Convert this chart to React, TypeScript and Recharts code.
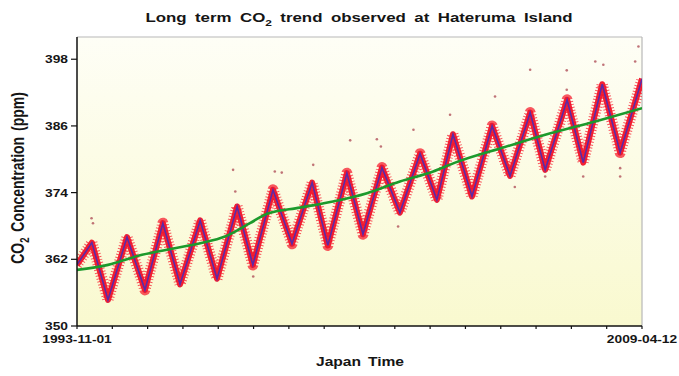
import React from 'react';
import { ComposedChart, Line, Scatter, XAxis, YAxis, CartesianGrid, ReferenceLine } from 'recharts';

// Seasonal (smoothed) curve: peaks and troughs
const seasonTime = [1993.83, 1994.24, 1994.68, 1995.20, 1995.69, 1996.18, 1996.65, 1997.20, 1997.66, 1998.21, 1998.64, 1999.19, 1999.71, 2000.26, 2000.69, 2001.21, 2001.65, 2002.17, 2002.66, 2003.21, 2003.67, 2004.11, 2004.63, 2005.18, 2005.67, 2006.22, 2006.63, 2007.23, 2007.67, 2008.19, 2008.68, 2009.28];
const seasonPpm = [361.0, 365.0, 354.7, 366.0, 356.5, 368.5, 357.5, 369.0, 358.5, 371.5, 361.0, 374.5, 364.8, 375.8, 364.5, 377.5, 366.5, 378.5, 370.4, 381.0, 372.7, 384.5, 373.3, 386.0, 377.0, 388.4, 378.1, 390.7, 379.4, 393.5, 381.2, 394.5];

// Long-term trend (green)
const trendTime = [1993.83, 1994.68, 1995.61, 1996.51, 1997.20, 1997.88, 1998.56, 1999.03, 1999.93, 2000.83, 2001.76, 2002.66, 2003.57, 2004.17, 2005.53, 2006.63, 2008.00, 2009.28];
const trendPpm = [360.1, 361.0, 362.8, 364.0, 364.9, 366.1, 368.5, 370.2, 371.3, 372.4, 373.9, 376.0, 377.8, 379.4, 382.2, 384.4, 386.8, 389.2];

// Scattered outlying observations
const outlierTime = [1994.23, 1994.27, 1998.10, 1998.16, 1998.65, 1999.24, 1999.43, 2000.29, 2001.30, 2002.03, 2002.14, 2002.61, 2003.03, 2004.03, 2005.26, 2005.80, 2006.22, 2006.63, 2007.22, 2007.22, 2007.67, 2008.00, 2008.22, 2008.68, 2008.68, 2009.09, 2009.18];
const outlierPpm = [369.4, 368.5, 378.1, 374.2, 358.9, 377.8, 377.6, 379.0, 383.4, 383.6, 382.3, 367.9, 385.3, 388.0, 391.3, 375.0, 396.1, 376.9, 396.0, 392.5, 376.9, 397.6, 397.0, 378.4, 376.9, 397.6, 400.3];

const yTicks = [350, 362, 374, 386, 398];
const xLabels = ['1993-11-01', '2009-04-12'];
const xStart = 1993.833;
const xEnd = 2009.277;
const xTickCount = 17;
const yMin = 350;
const yMax = 402;

const seasonData = seasonTime.map((t, i) => ({ t, v: seasonPpm[i] }));
const trendData = trendTime.map((t, i) => ({ t, v: trendPpm[i] }));
const outlierData = outlierTime.map((t, i) => ({ t, v: outlierPpm[i] }));
const xTicks = Array.from({ length: xTickCount }, (_, i) => xStart + ((xEnd - xStart) * i) / (xTickCount - 1));

const FONT = '"Liberation Sans", Arial, sans-serif';
const SX = 1.25;

const YTick = (props: any) => {
  const { x, y, payload } = props;
  return (
    <text transform={`translate(${x},${y + 4}) scale(${SX},1)`} textAnchor="end" fontFamily={FONT} fontSize={11} fontWeight="bold" fill="#151515">
      {payload.value}
    </text>
  );
};

const XTick = (props: any) => {
  const { x, y, index } = props;
  let label: string | null = null;
  if (index === 0) label = xLabels[0];
  else if (index === xTicks.length - 1) label = xLabels[1];
  if (!label) return null;
  return (
    <text transform={`translate(${x},${y + 12}) scale(${SX},1)`} textAnchor="middle" fontFamily={FONT} fontSize={11} fontWeight="bold" fill="#151515">
      {label}
    </text>
  );
};

const Dot = (props: any) => <circle cx={props.cx} cy={props.cy} r={1.3} fill="#b0505a" fillOpacity={0.8} />;

export default function App() {
  return (
    <div style={{ position: 'absolute', left: 0, top: 0, width: 679, height: 376, background: '#fff' }}>
      <ComposedChart width={679} height={376} margin={{ top: 37, right: 37, bottom: 20, left: 0 }}>
        <defs>
          <linearGradient id="bgGrad" x1="0" y1="0" x2="0" y2="1">
            <stop offset="0%" stopColor="#fefef6" />
            <stop offset="100%" stopColor="#f9f9cf" />
          </linearGradient>
        </defs>
        <CartesianGrid horizontal={false} vertical={false} fill="url(#bgGrad)" fillOpacity={1} />
        <XAxis
          type="number"
          dataKey="t"
          domain={[xStart, xEnd]}
          allowDataOverflow
          ticks={xTicks}
          interval={0}
          tick={<XTick />}
          tickSize={3}
          tickMargin={2}
          height={30}
          axisLine={{ stroke: '#111', strokeWidth: 1.5 }}
          tickLine={{ stroke: '#111', strokeWidth: 1.2 }}
        />
        <YAxis
          type="number"
          domain={[yMin, yMax]}
          allowDataOverflow
          ticks={yTicks}
          interval={0}
          tick={<YTick />}
          tickSize={6}
          tickMargin={3}
          width={77}
          axisLine={{ stroke: '#111', strokeWidth: 1.5 }}
          tickLine={{ stroke: '#111', strokeWidth: 1.2 }}
        />
        <ReferenceLine y={yMax} stroke="#b8b8b8" strokeWidth={1.2} />
        <ReferenceLine x={xEnd} stroke="#b8b8b8" strokeWidth={1.2} />
        <Line data={seasonData} dataKey="v" type="linear" stroke="#f52030" strokeOpacity={0.75} strokeWidth={11} strokeLinejoin="round" strokeDasharray="1 2" dot={false} isAnimationActive={false} />
        <Line data={seasonData} dataKey="v" type="linear" stroke="#f0142a" strokeOpacity={0.95} strokeWidth={6} strokeLinejoin="round" dot={false} isAnimationActive={false} />
        <Line data={seasonData} dataKey="v" type="linear" stroke="#5a2aa8" strokeWidth={1.6} dot={false} isAnimationActive={false} />
        <Scatter data={outlierData} dataKey="v" shape={<Dot />} isAnimationActive={false} />
        <Line data={trendData} dataKey="v" type="monotone" stroke="#1c9a2c" strokeWidth={2.6} dot={false} isAnimationActive={false} />
      </ComposedChart>
      <svg width={679} height={376} style={{ position: 'absolute', left: 0, top: 0, pointerEvents: 'none' }}>
        <text transform={`translate(359,22) scale(${SX},1)`} textAnchor="middle" fontFamily={FONT} fontSize={13.5} fontWeight="bold" fill="#151515" wordSpacing={3}>
          Long term CO<tspan fontSize={9.5} dy={4}>2</tspan><tspan dy={-4}> trend observed at Hateruma Island</tspan>
        </text>
        <text transform={`translate(24,178) scale(${SX},1) rotate(-90)`} textAnchor="middle" fontFamily={FONT} fontSize={14} fontWeight="bold" fill="#151515" wordSpacing={2}>
          CO<tspan fontSize={9.5} dy={4}>2</tspan><tspan dy={-4}> Concentration (ppm)</tspan>
        </text>
        <text transform={`translate(360,366) scale(${SX},1)`} textAnchor="middle" fontFamily={FONT} fontSize={12.5} fontWeight="bold" fill="#151515" wordSpacing={2}>
          Japan Time
        </text>
      </svg>
    </div>
  );
}
